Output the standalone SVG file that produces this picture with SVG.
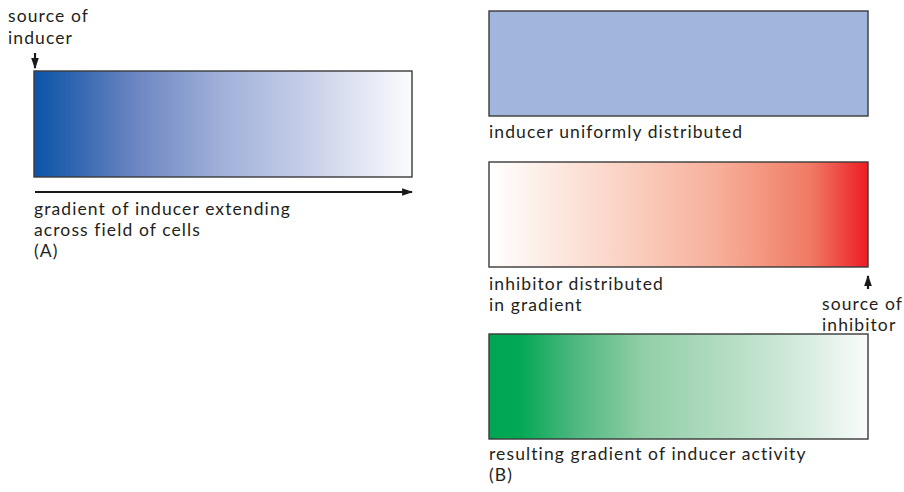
<svg xmlns="http://www.w3.org/2000/svg" width="904" height="492" viewBox="0 0 904 492">
<style>
text{font-family:Lato,"Open Sans","Liberation Sans",sans-serif;font-size:17.5px;letter-spacing:1.1px;fill:#231f20}
.box{stroke:#3a3a3a;stroke-width:1.4}
.ln{stroke:#1a1a1a;stroke-width:2.2;fill:none}
</style>
<defs>
<linearGradient id="gBlue" x1="0" x2="1" y1="0" y2="0">
<stop offset="0" stop-color="#0a55a8"/>
<stop offset="0.1" stop-color="#2e64b0"/>
<stop offset="0.27" stop-color="#6d86c2"/>
<stop offset="0.5" stop-color="#a1b1da"/>
<stop offset="0.75" stop-color="#ccd3ea"/>
<stop offset="1" stop-color="#fbfcfe"/>
</linearGradient>
<linearGradient id="gRed" x1="0" x2="1" y1="0" y2="0">
<stop offset="0" stop-color="#ffffff"/>
<stop offset="0.3" stop-color="#fbd9cc"/>
<stop offset="0.6" stop-color="#f7b09b"/>
<stop offset="0.85" stop-color="#f07a63"/>
<stop offset="1" stop-color="#ed1c24"/>
</linearGradient>
<linearGradient id="gGreen" x1="0" x2="1" y1="0" y2="0">
<stop offset="0" stop-color="#00a651"/>
<stop offset="0.08" stop-color="#02a853"/>
<stop offset="0.22" stop-color="#4bb77e"/>
<stop offset="0.4" stop-color="#90cea6"/>
<stop offset="0.62" stop-color="#b3dcc2"/>
<stop offset="0.82" stop-color="#d3ebdd"/>
<stop offset="1" stop-color="#fafcfb"/>
</linearGradient>
<marker id="ah" viewBox="0 0 10 10" refX="9" refY="5" markerWidth="11" markerHeight="11" markerUnits="userSpaceOnUse" orient="auto">
<path d="M0,1.5 L10,5 L0,8.5 Z" fill="#1a1a1a"/>
</marker>
</defs>

<g id="panelA-box">
<rect class="box" x="34" y="71" width="378" height="106" fill="url(#gBlue)"/>
</g>
<g id="panelA-source">
<text x="8" y="22">source of</text>
<text x="8" y="44">inducer</text>
</g>
<g id="panelA-caption">
<text x="34" y="215">gradient of inducer extending</text>
<text x="34" y="236">across field of cells</text>
<text x="34" y="257">(A)</text>
</g>

<g id="panelB-uniform">
<rect class="box" x="489" y="11" width="379" height="105" fill="#a2b5dd"/>
<text x="489" y="138">inducer uniformly distributed</text>
</g>
<g id="panelB-inhibitor">
<rect class="box" x="489" y="162" width="379" height="105" fill="url(#gRed)"/>
<text x="489" y="290">inhibitor distributed</text>
<text x="489" y="311">in gradient</text>
</g>
<g id="panelB-source">
<text x="822" y="310">source of</text>
<text x="822" y="331">inhibitor</text>
</g>
<g id="panelB-result">
<rect class="box" x="489" y="334" width="379" height="105" fill="url(#gGreen)"/>
<text x="489" y="460">resulting gradient of inducer activity</text>
<text x="489" y="481">(B)</text>
</g>

<g id="connectors">
<line class="ln" x1="35" y1="53" x2="35" y2="68" marker-end="url(#ah)"/>
<line class="ln" x1="35" y1="192" x2="412" y2="192" marker-end="url(#ah)"/>
<line class="ln" x1="868" y1="289" x2="868" y2="276" marker-end="url(#ah)"/>
</g>
</svg>
